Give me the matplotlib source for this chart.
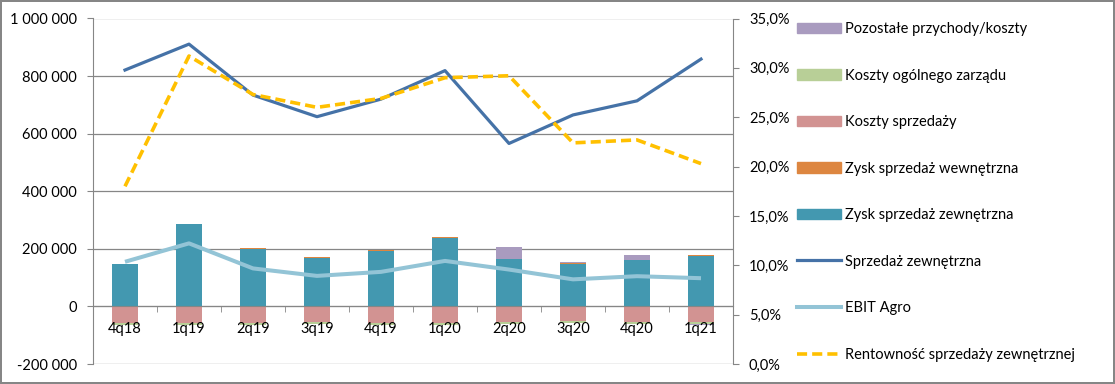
import matplotlib
matplotlib.use("Agg")
import matplotlib.pyplot as plt
import numpy as np
from matplotlib.patches import Patch
from matplotlib.lines import Line2D
from matplotlib.ticker import FuncFormatter, MultipleLocator

plt.rcParams['font.family'] = ['Lato', 'DejaVu Sans']
plt.rcParams['font.size'] = 10

# Data
quarters = ['4q18', '1q19', '2q19', '3q19', '4q19', '1q20', '2q20', '3q20', '4q20', '1q21']
zysk_zewn = [147000, 285000, 199000, 169000, 192000, 238000, 164000, 148000, 161000, 175000]
zysk_wewn = [0, 0, 3000, 3000, 4000, 2000, 0, 2000, 0, 3000]
koszty_sprzedazy = [-58000, -57000, -58000, -55000, -58000, -58000, -55000, -52000, -55000, -55000]
koszty_zarzadu = [-7000, -7000, -6000, -7000, -6000, -6000, -6000, -7000, -6000, -7000]
pozostale = [0, 2000, 0, 0, 0, 0, 41000, 3000, 17000, -3000]
sprzedaz_zewn = [821000, 911000, 734000, 659000, 720000, 819000, 566000, 665000, 714000, 859000]
ebit_agro = [155000, 219000, 132000, 106000, 120000, 158000, 128000, 94000, 105000, 98000]
rentownosc = [18.0, 31.2, 27.3, 26.0, 26.9, 29.0, 29.2, 22.4, 22.7, 20.3]

c_poz = '#A99BBF'
c_zarz = '#B8CF97'
c_sprz = '#D29392'
c_wewn = '#DD8640'
c_zewn = '#4398B0'
c_sales = '#4572A7'
c_ebit = '#93C4D6'
c_rent = '#FFC000'
grey = '#868686'

fig = plt.figure(figsize=(11.15, 3.84), dpi=100)
fig.patch.set_edgecolor(grey)
fig.patch.set_linewidth(1.5)

ax = fig.add_axes([93 / 1115, 1 - 364 / 384, 640 / 1115, (364 - 18.5) / 384])
x = np.arange(len(quarters))
w = 0.4

zewn = np.array(zysk_zewn)
wewn = np.array(zysk_wewn)
sprz = np.array(koszty_sprzedazy)
zarz = np.array(koszty_zarzadu)
poz = np.array(pozostale)

# stacked bars: profits up, costs down
ax.bar(x, zewn, w, color=c_zewn, zorder=1)
ax.bar(x, wewn, w, bottom=zewn, color=c_wewn, zorder=1)
ax.bar(x, sprz, w, color=c_sprz, zorder=1)
ax.bar(x, zarz, w, bottom=sprz, color=c_zarz, zorder=1)
poz_bottom = np.where(poz >= 0, zewn + wewn, sprz + zarz)
ax.bar(x, poz, w, bottom=poz_bottom, color=c_poz, zorder=1)

ax.plot(x, sprzedaz_zewn, color=c_sales, lw=2.3, zorder=3)
ax.plot(x, ebit_agro, color=c_ebit, lw=2.9, zorder=3, solid_capstyle='butt')

ax.set_xlim(-0.5, len(quarters) - 0.5)
ax.set_ylim(-200000, 1000000)
ax.yaxis.set_major_locator(MultipleLocator(200000))
ax.yaxis.set_major_formatter(FuncFormatter(lambda v, p: f"{v:,.0f}".replace(',', ' ')))
for yv in ax.get_yticks()[:-1]:
    ax.axhline(yv, color=grey, lw=0.9, zorder=0)

ax.set_xticks(x)
ax.set_xticklabels(quarters)
ax.set_xticks(np.arange(len(quarters) + 1) - 0.5, minor=True)
ax.tick_params(axis='x', which='major', length=0, pad=11, labelsize=10.5)
ax.tick_params(axis='x', which='minor', length=4.5, color=grey, direction='out')
ax.tick_params(axis='y', length=4.5, color=grey, pad=7, labelsize=10.5)
ax.spines['bottom'].set_position(('data', 0))
for s in ['bottom', 'left', 'right']:
    ax.spines[s].set_color(grey)
ax.spines['top'].set_visible(False)
ax.spines['right'].set_visible(False)

# right axis: profitability in %
ax2 = ax.twinx()
ax2.plot(x, rentownosc, color=c_rent, lw=2.6, dashes=(2.8, 1.4))
ax2.set_ylim(0, 35)
ax2.yaxis.set_major_locator(MultipleLocator(5))
ax2.yaxis.set_major_formatter(FuncFormatter(lambda v, p: f"{v:.1f}%".replace('.', ',')))
ax2.tick_params(axis='y', length=4.5, color=grey, pad=7, labelsize=10.5)
for s in ['top', 'bottom', 'left']:
    ax2.spines[s].set_visible(False)
ax2.spines['right'].set_color(grey)

handles = [
    Patch(color=c_poz, label='Pozostałe przychody/koszty'),
    Patch(color=c_zarz, label='Koszty ogólnego zarządu'),
    Patch(color=c_sprz, label='Koszty sprzedaży'),
    Patch(color=c_wewn, label='Zysk sprzedaż wewnętrzna'),
    Patch(color=c_zewn, label='Zysk sprzedaż zewnętrzna'),
    Line2D([], [], color=c_sales, lw=2.3, label='Sprzedaż zewnętrzna'),
    Line2D([], [], color=c_ebit, lw=2.9, label='EBIT Agro'),
    Line2D([], [], color=c_rent, lw=2.6, dashes=(2.8, 1.4), label='Rentowność sprzedaży zewnętrznej'),
]
fig.legend(handles=handles, loc='upper left', bbox_to_anchor=(797 / 1115, 1 - 22 / 384),
           frameon=False, fontsize=10.5, handlelength=3.0, handleheight=0.7,
           handletextpad=0.3, labelspacing=2.23, borderpad=0, borderaxespad=0)

fig.savefig('out.png', dpi=100)
